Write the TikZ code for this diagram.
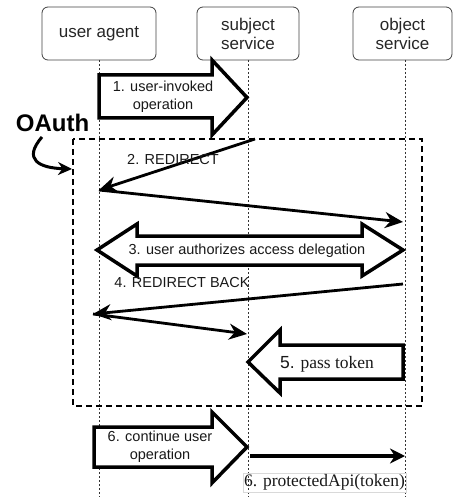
\documentclass[tikz,border=0pt]{standalone}
\usepackage{fontspec}
\setmainfont{Liberation Serif}
\setsansfont{Liberation Sans}
\usetikzlibrary{arrows.meta}
\begin{document}
\begin{tikzpicture}[x=1pt,y=-1pt,
  header/.style={draw=black!75, rounded corners=6pt, line width=0.8pt, align=center,
    font=\sffamily\fontsize{17}{19}\selectfont, text=black!85, inner sep=0pt},
  lifeline/.style={draw=black!80, line width=0.7pt, dash pattern=on 2pt off 2pt},
  oauthbox/.style={draw=black, line width=1.6pt, dash pattern=on 6pt off 4pt},
  blockarrow/.style={draw=black, line width=3.5pt, fill=white, line join=miter},
  lbl/.style={font=\sffamily\fontsize{14.5}{18}\selectfont, align=center, text=black!90, inner sep=0pt},
  serlbl/.style={font=\rmfamily\fontsize{17.5}{20}\selectfont, text=black!90, inner sep=0pt},
  msg/.style={draw=black, line width=2.8pt, -{Stealth[length=18pt,width=16pt]}},
  apimsg/.style={draw=black, line width=3.5pt, -{Stealth[length=15pt,width=15pt]}},
  apibox/.style={draw=black!15, line width=0.6pt, inner xsep=1pt, inner ysep=1.5pt,
    font=\rmfamily\fontsize{17.5}{20}\selectfont, text=black!90}
]
\useasboundingbox (0,0) rectangle (453,497);

% participants
\node[header, minimum width=114pt, minimum height=53pt] (ua) at (99,33.5) {user agent};
\node[header, minimum width=102pt, minimum height=53pt] (ss) at (248,33.5) {subject\\service};
\node[header, minimum width=99pt, minimum height=53pt] (os) at (402.5,33.5) {object\\service};

% lifelines
\coordinate (uaB) at (99,497);
\coordinate (ssB) at (248,497);
\coordinate (osB) at (405,497);
\coordinate (uaT) at (99,60);
\coordinate (ssT) at (248,60);
\coordinate (osT) at (405,60);
\draw[lifeline] (uaT) -- (uaB);
\draw[lifeline] (ssT) -- (ssB);
\draw[lifeline] (osT) -- (osB);

% OAuth frame
\draw[oauthbox] (73,139) rectangle (422,406);
\node[font=\sffamily\bfseries\fontsize{24}{26}\selectfont, inner sep=0pt] (oauth) at (52.5,123) {OAuth};
\coordinate (oa1) at (42,137);
\coordinate (oa2) at (72,169);
\draw[line width=3pt, -{Stealth[length=14pt,width=13pt]}] (oa1) .. controls (22,160) and (40,168) .. (oa2);

% 1. user-invoked operation
\draw[blockarrow] (99,75) -- (212,75) -- (212,60) -- (247,97.5) -- (212,135) -- (212,118) -- (99,118) -- cycle;
\node[lbl] (m1) at (163,97) {1. user-invoked\\operation};

% 2. REDIRECT
\coordinate (r2a) at (255,139);
\coordinate (r2b) at (99,190);
\coordinate (r2c) at (403,222);
\draw[msg] (r2a) -- (r2b);
\draw[msg] (r2b) -- (r2c);
\node[lbl] (m2) at (173,160) {2. REDIRECT};

% 3. user authorizes access delegation
\draw[blockarrow] (97,250) -- (137,224) -- (137,236) -- (362,236) -- (362,224) -- (403,250)
  -- (362,276) -- (362,265) -- (137,265) -- (137,276) -- cycle;
\node[lbl] (m3) at (247,251) {3. user authorizes access delegation};

% 4. REDIRECT BACK
\coordinate (r4a) at (403,284);
\coordinate (r4b) at (93,314);
\coordinate (r4c) at (247,334);
\draw[msg] (r4a) -- (r4b);
\draw[msg] (r4b) -- (r4c);
\node[lbl] (m4) at (182,283) {4. REDIRECT BACK};

% 5. pass token
\draw[blockarrow] (403,345) -- (280,345) -- (280,330) -- (248,362) -- (280,393) -- (280,379) -- (403,379) -- cycle;
\node[serlbl] (m5) at (327,364) {{\sffamily 5.} pass token};

% 6. continue user operation
\draw[blockarrow] (94,427) -- (212,427) -- (212,412) -- (247,447) -- (212,483) -- (212,467) -- (94,467) -- cycle;
\node[lbl] (m6) at (160,447) {6. continue user\\operation};

% 6. protectedApi(token)
\coordinate (p6a) at (250,456);
\coordinate (p6b) at (405,456);
\draw[apimsg] (p6a) -- (p6b);
\node[apibox] (m6b) at (324.5,482.5) {6. protectedApi(token)};
\end{tikzpicture}
\end{document}
